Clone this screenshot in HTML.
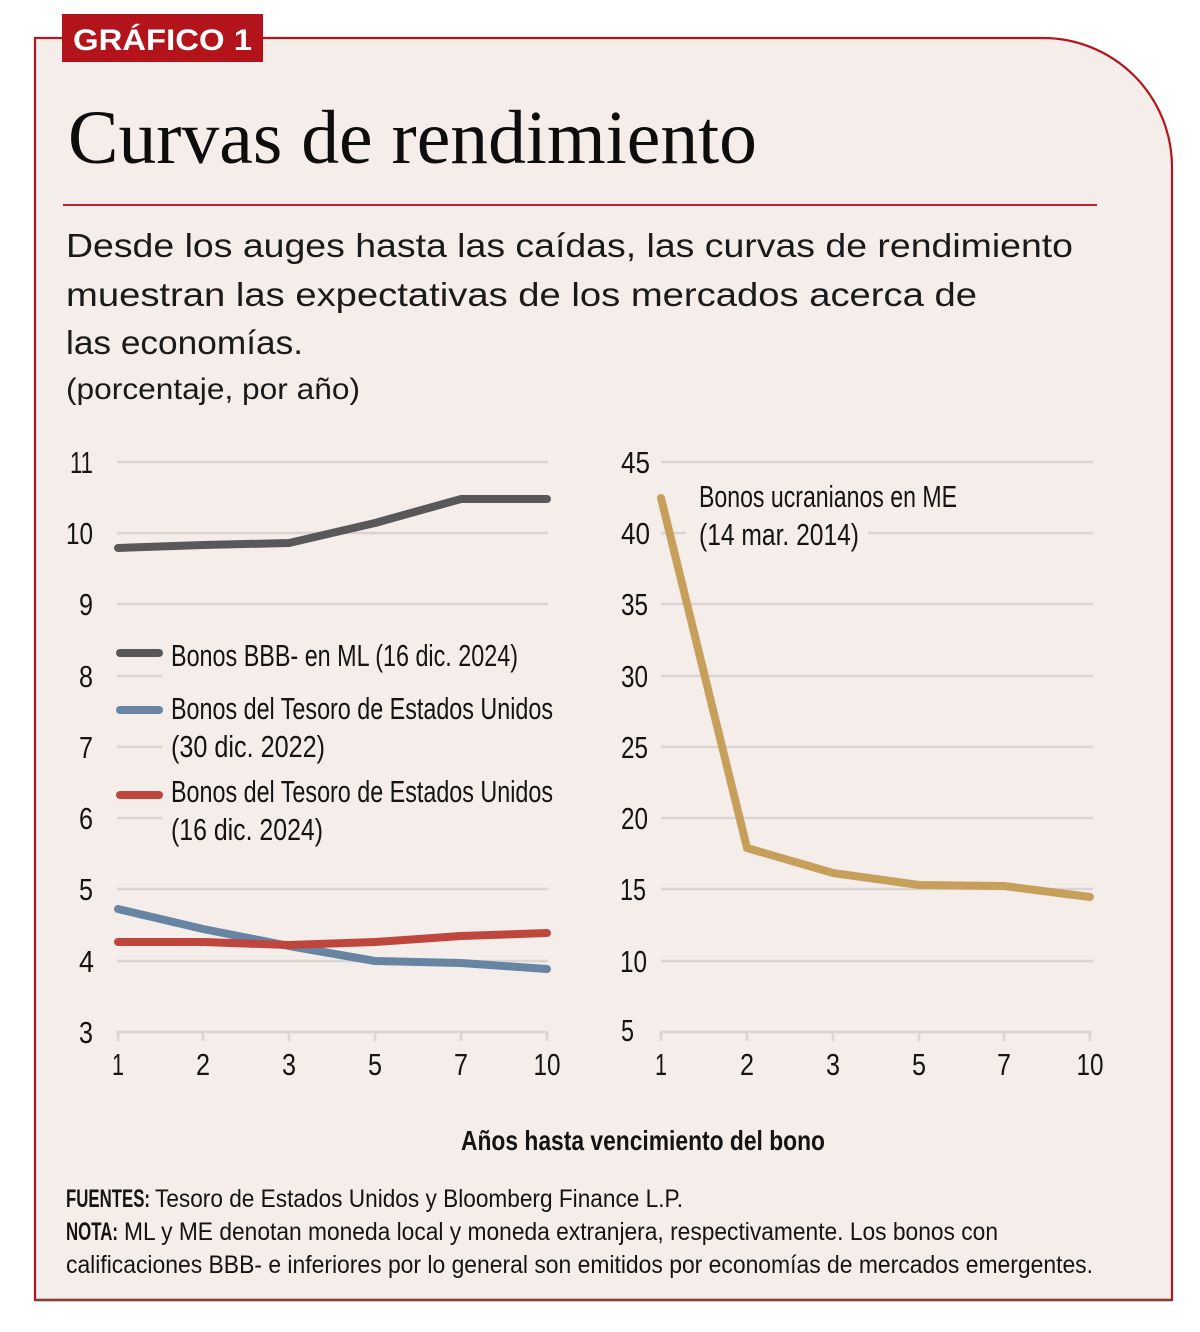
<!DOCTYPE html>
<html>
<head>
<meta charset="utf-8">
<style>
  html,body{margin:0;padding:0;background:#ffffff;}
  svg{display:block;}
  .ch{font-family:"Liberation Sans Narrow","Liberation Sans",sans-serif;fill:#141414;}
  .sub{font-family:"Liberation Sans",sans-serif;fill:#1a1a1a;}
</style>
</head>
<body>
<svg width="1200" height="1332" viewBox="0 0 1200 1332" xmlns="http://www.w3.org/2000/svg">
  <!-- frame -->
  <path d="M35,38 H1043 A129,129 0 0 1 1172,167 V1300 H35 Z" fill="#f5edea" stroke="#b3151c" stroke-width="2.2"/>
  <line x1="35" y1="1300" x2="1172" y2="1300" stroke="#7d4634" stroke-width="2.4"/>
  <!-- label box -->
  <rect x="62" y="14" width="201" height="48" fill="#b3131b"/>
  <text x="73" y="50" font-family="Liberation Sans, sans-serif" font-weight="bold" font-size="30" fill="#ffffff" textLength="179" lengthAdjust="spacingAndGlyphs">GRÁFICO 1</text>

  <!-- title -->
  <text x="68" y="163" font-family="Liberation Serif, serif" font-size="76" fill="#0d0d0d" textLength="689" lengthAdjust="spacingAndGlyphs">Curvas de rendimiento</text>
  <line x1="63" y1="205" x2="1097" y2="205" stroke="#c0242a" stroke-width="2"/>

  <!-- subtitle -->
  <text class="sub" x="66" y="257" font-size="33" textLength="1007" lengthAdjust="spacingAndGlyphs">Desde los auges hasta las caídas, las curvas de rendimiento</text>
  <text class="sub" x="66" y="306" font-size="33" textLength="911" lengthAdjust="spacingAndGlyphs">muestran las expectativas de los mercados acerca de</text>
  <text class="sub" x="66" y="354" font-size="33" textLength="237" lengthAdjust="spacingAndGlyphs">las economías.</text>
  <text class="sub" x="66" y="399" font-size="30" textLength="294" lengthAdjust="spacingAndGlyphs">(porcentaje, por año)</text>

  <!-- LEFT CHART gridlines -->
  <g stroke="#dad5d3" stroke-width="2.6" fill="none">
    <line x1="117" y1="462" x2="548" y2="462"/>
    <line x1="117" y1="533" x2="548" y2="533"/>
    <line x1="117" y1="604" x2="548" y2="604"/>
    <line x1="117" y1="676" x2="162" y2="676"/>
    <line x1="117" y1="747" x2="162" y2="747"/>
    <line x1="117" y1="818" x2="162" y2="818"/>
    <line x1="117" y1="889" x2="548" y2="889"/>
    <line x1="117" y1="961" x2="548" y2="961"/>
    <line x1="117" y1="1032" x2="548" y2="1032"/>
    <line x1="118" y1="1032" x2="118" y2="1041"/>
    <line x1="203" y1="1032" x2="203" y2="1041"/>
    <line x1="289" y1="1032" x2="289" y2="1041"/>
    <line x1="375" y1="1032" x2="375" y2="1041"/>
    <line x1="461" y1="1032" x2="461" y2="1041"/>
    <line x1="547" y1="1032" x2="547" y2="1041"/>
  </g>
  <!-- left y labels -->
  <g class="ch" font-size="31" text-anchor="end">
    <text x="93" y="473" textLength="23" lengthAdjust="spacingAndGlyphs">11</text>
    <text x="93" y="544" textLength="27" lengthAdjust="spacingAndGlyphs">10</text>
    <text x="93" y="615" textLength="14" lengthAdjust="spacingAndGlyphs">9</text>
    <text x="93" y="687" textLength="14" lengthAdjust="spacingAndGlyphs">8</text>
    <text x="93" y="758" textLength="14" lengthAdjust="spacingAndGlyphs">7</text>
    <text x="93" y="829" textLength="14" lengthAdjust="spacingAndGlyphs">6</text>
    <text x="93" y="900" textLength="14" lengthAdjust="spacingAndGlyphs">5</text>
    <text x="94" y="972" textLength="15" lengthAdjust="spacingAndGlyphs">4</text>
    <text x="93" y="1043" textLength="14" lengthAdjust="spacingAndGlyphs">3</text>
  </g>
  <!-- left x labels -->
  <g class="ch" font-size="31" text-anchor="middle">
    <text x="118" y="1075" textLength="12" lengthAdjust="spacingAndGlyphs">1</text>
    <text x="203" y="1075" textLength="14" lengthAdjust="spacingAndGlyphs">2</text>
    <text x="289" y="1075" textLength="14" lengthAdjust="spacingAndGlyphs">3</text>
    <text x="375" y="1075" textLength="14" lengthAdjust="spacingAndGlyphs">5</text>
    <text x="461" y="1075" textLength="14" lengthAdjust="spacingAndGlyphs">7</text>
    <text x="547" y="1075" textLength="27" lengthAdjust="spacingAndGlyphs">10</text>
  </g>
  <!-- left series -->
  <g fill="none" stroke-width="8" stroke-linecap="round" stroke-linejoin="round">
    <polyline stroke="#58585b" points="118,548 203,545 289,543 375,523 461,499 547,499"/>
    <polyline stroke="#6784a3" points="118,909 203,929 289,946 375,961 461,963 547,969"/>
    <polyline stroke="#be463c" points="118,942 203,942 289,945 375,942 461,936 547,933"/>
  </g>
  <!-- legend -->
  <g stroke-width="8" stroke-linecap="round">
    <line x1="120" y1="653" x2="159" y2="653" stroke="#58585b"/>
    <line x1="120" y1="710" x2="159" y2="710" stroke="#6784a3"/>
    <line x1="120" y1="795" x2="159" y2="795" stroke="#be463c"/>
  </g>
  <g class="ch" font-size="31">
    <text x="171" y="666" textLength="347" lengthAdjust="spacingAndGlyphs">Bonos BBB- en ML (16 dic. 2024)</text>
    <text x="171" y="719" textLength="382" lengthAdjust="spacingAndGlyphs">Bonos del Tesoro de Estados Unidos</text>
    <text x="171" y="757" textLength="154" lengthAdjust="spacingAndGlyphs">(30 dic. 2022)</text>
    <text x="171" y="802" textLength="382" lengthAdjust="spacingAndGlyphs">Bonos del Tesoro de Estados Unidos</text>
    <text x="171" y="840" textLength="152" lengthAdjust="spacingAndGlyphs">(16 dic. 2024)</text>
  </g>

  <!-- RIGHT CHART gridlines -->
  <g stroke="#dad5d3" stroke-width="2.6" fill="none">
    <line x1="661" y1="462" x2="1093" y2="462"/>
    <line x1="661" y1="533" x2="686" y2="533"/>
    <line x1="868" y1="533" x2="1093" y2="533"/>
    <line x1="661" y1="604" x2="1093" y2="604"/>
    <line x1="661" y1="676" x2="1093" y2="676"/>
    <line x1="661" y1="747" x2="1093" y2="747"/>
    <line x1="661" y1="818" x2="1093" y2="818"/>
    <line x1="661" y1="889" x2="1093" y2="889"/>
    <line x1="661" y1="961" x2="1093" y2="961"/>
    <line x1="661" y1="1032" x2="1091" y2="1032"/>
    <line x1="661" y1="1032" x2="661" y2="1041"/>
    <line x1="747" y1="1032" x2="747" y2="1041"/>
    <line x1="833" y1="1032" x2="833" y2="1041"/>
    <line x1="919" y1="1032" x2="919" y2="1041"/>
    <line x1="1004" y1="1032" x2="1004" y2="1041"/>
    <line x1="1090" y1="1032" x2="1090" y2="1041"/>
  </g>
  <!-- right y labels -->
  <g class="ch" font-size="31">
    <text x="621" y="473" textLength="29" lengthAdjust="spacingAndGlyphs">45</text>
    <text x="621" y="544" textLength="29" lengthAdjust="spacingAndGlyphs">40</text>
    <text x="621" y="615" textLength="27" lengthAdjust="spacingAndGlyphs">35</text>
    <text x="621" y="687" textLength="27" lengthAdjust="spacingAndGlyphs">30</text>
    <text x="621" y="758" textLength="27" lengthAdjust="spacingAndGlyphs">25</text>
    <text x="621" y="829" textLength="27" lengthAdjust="spacingAndGlyphs">20</text>
    <text x="620" y="900" textLength="26" lengthAdjust="spacingAndGlyphs">15</text>
    <text x="620" y="972" textLength="27" lengthAdjust="spacingAndGlyphs">10</text>
    <text x="621" y="1041" textLength="13" lengthAdjust="spacingAndGlyphs">5</text>
  </g>
  <!-- right x labels -->
  <g class="ch" font-size="31" text-anchor="middle">
    <text x="661" y="1075" textLength="12" lengthAdjust="spacingAndGlyphs">1</text>
    <text x="747" y="1075" textLength="14" lengthAdjust="spacingAndGlyphs">2</text>
    <text x="833" y="1075" textLength="14" lengthAdjust="spacingAndGlyphs">3</text>
    <text x="919" y="1075" textLength="14" lengthAdjust="spacingAndGlyphs">5</text>
    <text x="1004" y="1075" textLength="14" lengthAdjust="spacingAndGlyphs">7</text>
    <text x="1090" y="1075" textLength="27" lengthAdjust="spacingAndGlyphs">10</text>
  </g>
  <!-- right series -->
  <polyline fill="none" stroke="#c6a05a" stroke-width="8" stroke-linecap="round" stroke-linejoin="round" points="661,498 747,848 833,873 919,885 1004,886 1090,897"/>
  <g class="ch" font-size="31">
    <text x="699" y="507" textLength="258" lengthAdjust="spacingAndGlyphs">Bonos ucranianos en ME</text>
    <text x="699" y="545" textLength="160" lengthAdjust="spacingAndGlyphs">(14 mar. 2014)</text>
  </g>

  <!-- axis title -->
  <text class="ch" x="461" y="1150" font-size="28" font-weight="bold" textLength="364" lengthAdjust="spacingAndGlyphs">Años hasta vencimiento del bono</text>

  <!-- footer -->
  <g class="ch" font-size="25">
    <text x="66" y="1207" font-weight="bold" textLength="84" lengthAdjust="spacingAndGlyphs">FUENTES:</text>
    <text x="155" y="1207" textLength="528" lengthAdjust="spacingAndGlyphs">Tesoro de Estados Unidos y Bloomberg Finance L.P.</text>
    <text x="66" y="1240" font-weight="bold" textLength="52" lengthAdjust="spacingAndGlyphs">NOTA:</text>
    <text x="124" y="1240" textLength="874" lengthAdjust="spacingAndGlyphs">ML y ME denotan moneda local y moneda extranjera, respectivamente. Los bonos con</text>
    <text x="66" y="1273" textLength="1027" lengthAdjust="spacingAndGlyphs">calificaciones BBB- e inferiores por lo general son emitidos por economías de mercados emergentes.</text>
  </g>
</svg>
</body>
</html>
